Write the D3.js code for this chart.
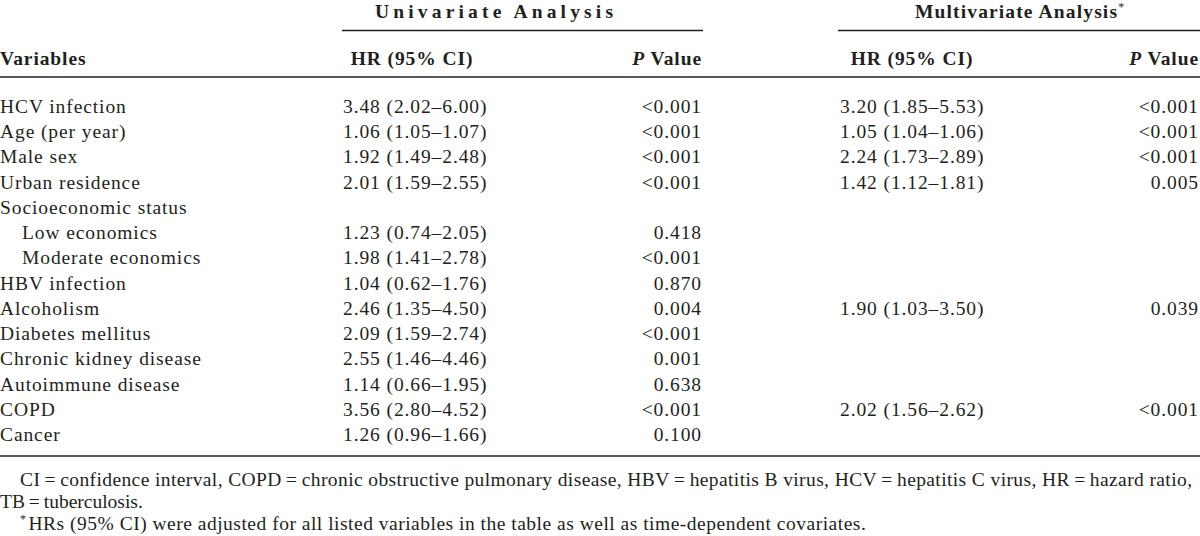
<!DOCTYPE html>
<html><head><meta charset="utf-8">
<script src="https://cdn.jsdelivr.net/npm/d3@7"></script>
<style>
html,body{margin:0;padding:0;background:#fff;}
svg text{font-family:"Liberation Serif","Times New Roman",serif;fill:#231f20;}
</style></head>
<body><svg id="c" width="1200" height="536"></svg>
<script>
const variables = ["HCV infection","Age (per year)","Male sex","Urban residence","Socioeconomic status","Low economics","Moderate economics","HBV infection","Alcoholism","Diabetes mellitus","Chronic kidney disease","Autoimmune disease","COPD","Cancer"];
const indentLevel = [0,0,0,0,0,1,1,0,0,0,0,0,0,0];
const uniHR = ["3.48 (2.02–6.00)","1.06 (1.05–1.07)","1.92 (1.49–2.48)","2.01 (1.59–2.55)","","1.23 (0.74–2.05)","1.98 (1.41–2.78)","1.04 (0.62–1.76)","2.46 (1.35–4.50)","2.09 (1.59–2.74)","2.55 (1.46–4.46)","1.14 (0.66–1.95)","3.56 (2.80–4.52)","1.26 (0.96–1.66)"];
const uniP = ["<0.001","<0.001","<0.001","<0.001","","0.418","<0.001","0.870","0.004","<0.001","0.001","0.638","<0.001","0.100"];
const multiHR = ["3.20 (1.85–5.53)","1.05 (1.04–1.06)","2.24 (1.73–2.89)","1.42 (1.12–1.81)","","","","","1.90 (1.03–3.50)","","","","2.02 (1.56–2.62)",""];
const multiP = ["<0.001","<0.001","<0.001","0.005","","","","","0.039","","","","<0.001",""];
const groupHeaders = ["Univariate Analysis","Multivariate Analysis"];
const columnHeaders = ["Variables","HR (95% CI)","P Value","HR (95% CI)","P Value"];
const footnotes = [
  "CI\u2009=\u2009confidence interval, COPD\u2009=\u2009chronic obstructive pulmonary disease, HBV\u2009=\u2009hepatitis B virus, HCV\u2009=\u2009hepatitis C virus, HR\u2009=\u2009hazard ratio,",
  "TB\u2009=\u2009tuberculosis.",
  "HRs (95% CI) were adjusted for all listed variables in the table as well as time-dependent covariates."
];

const svg = d3.select("#c");
const FS = 19.5, LS = 0.9;
const ink = "#231f20";

const y = d3.scalePoint().domain(d3.range(variables.length)).range([113, 441]);

// rules
const rule = (x1,x2,yy,w)=>svg.append("line").attr("x1",x1).attr("x2",x2).attr("y1",yy).attr("y2",yy).attr("stroke",ink).attr("stroke-width",w);
rule(342,703,30.5,1.3);
rule(838,1200,30.5,1.3);
rule(0,1200,77,1.4);
rule(0,1200,456,1.6);

// group headers
svg.append("text").attr("x",375).attr("y",18).attr("font-size",FS).attr("font-weight","bold")
  .attr("textLength",238).attr("lengthAdjust","spacing").text(groupHeaders[0]);
const mh = svg.append("text").attr("x",915).attr("y",18).attr("font-size",FS).attr("font-weight","bold");
mh.append("tspan").attr("textLength",202).attr("lengthAdjust","spacing").text(groupHeaders[1]);
mh.append("tspan").attr("dy",-7).attr("font-size",12).attr("font-weight","normal").text("*");

// column headers
const hy = 65;
svg.append("text").attr("x",0).attr("y",hy).attr("font-size",FS).attr("font-weight","bold").attr("letter-spacing",LS).text(columnHeaders[0]);
svg.append("text").attr("x",412).attr("y",hy).attr("font-size",FS).attr("font-weight","bold").attr("letter-spacing",LS).attr("text-anchor","middle").text(columnHeaders[1]);
svg.append("text").attr("x",912).attr("y",hy).attr("font-size",FS).attr("font-weight","bold").attr("letter-spacing",LS).attr("text-anchor","middle").text(columnHeaders[3]);
[[702,columnHeaders[2]],[1199,columnHeaders[4]]].forEach(([x,t])=>{
  const tx = svg.append("text").attr("x",x).attr("y",hy).attr("font-size",FS).attr("font-weight","bold").attr("letter-spacing",LS).attr("text-anchor","end");
  tx.append("tspan").attr("font-style","italic").text(t.split(" ")[0]);
  tx.append("tspan").text(" "+t.split(" ").slice(1).join(" "));
});

// body
const rows = svg.append("g").selectAll("g").data(variables.map((v,i)=>({v,i}))).join("g");
rows.append("text").attr("x",d=>indentLevel[d.i]*22).attr("y",d=>y(d.i)).attr("font-size",FS).attr("letter-spacing",LS).text(d=>d.v);
rows.append("text").attr("x",343).attr("y",d=>y(d.i)).attr("font-size",FS).attr("letter-spacing",LS).text(d=>uniHR[d.i]);
rows.append("text").attr("x",702).attr("y",d=>y(d.i)).attr("font-size",FS).attr("letter-spacing",LS).attr("text-anchor","end").text(d=>uniP[d.i]);
rows.append("text").attr("x",840).attr("y",d=>y(d.i)).attr("font-size",FS).attr("letter-spacing",LS).text(d=>multiHR[d.i]);
rows.append("text").attr("x",1199).attr("y",d=>y(d.i)).attr("font-size",FS).attr("letter-spacing",LS).attr("text-anchor","end").text(d=>multiP[d.i]);

// footnotes
svg.append("text").attr("x",20).attr("y",486).attr("font-size",FS).attr("textLength",1172).attr("lengthAdjust","spacing").text(footnotes[0]);
svg.append("text").attr("x",0).attr("y",508).attr("font-size",FS).text(footnotes[1]);
const f3 = svg.append("text").attr("x",20).attr("y",530).attr("font-size",FS).attr("letter-spacing",0.5);
f3.append("tspan").attr("dy",-7).attr("font-size",12).text("*");
f3.append("tspan").attr("dy",7).attr("dx",2).text(footnotes[2]);
</script></body></html>
